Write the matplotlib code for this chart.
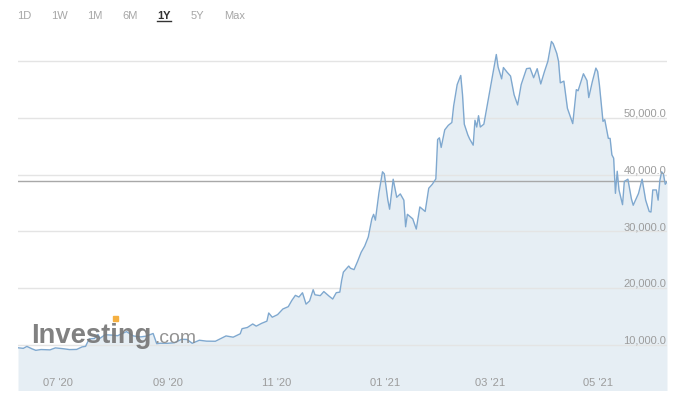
import matplotlib
matplotlib.use("Agg")
import matplotlib.pyplot as plt
import matplotlib.dates as mdates
import matplotlib.transforms as mtrans
from matplotlib import font_manager
import pandas as pd

# ---- data ----
dates = ["2020-06-17", "2020-06-20", "2020-06-22", "2020-06-25", "2020-06-27", "2020-06-30",
         "2020-07-05", "2020-07-08", "2020-07-12", "2020-07-16", "2020-07-20", "2020-07-23",
         "2020-07-25", "2020-07-27", "2020-07-30", "2020-08-01", "2020-08-02", "2020-08-05",
         "2020-08-09", "2020-08-12", "2020-08-17", "2020-08-21", "2020-08-25", "2020-08-28",
         "2020-09-01", "2020-09-03", "2020-09-05", "2020-09-09", "2020-09-13", "2020-09-17",
         "2020-09-20", "2020-09-23", "2020-09-27", "2020-10-01", "2020-10-06", "2020-10-09",
         "2020-10-12", "2020-10-16", "2020-10-20", "2020-10-21", "2020-10-24", "2020-10-27",
         "2020-10-29", "2020-11-01", "2020-11-04", "2020-11-05", "2020-11-07", "2020-11-10",
         "2020-11-13", "2020-11-16", "2020-11-18", "2020-11-20", "2020-11-22", "2020-11-24",
         "2020-11-26", "2020-11-28", "2020-11-30", "2020-12-01", "2020-12-04", "2020-12-06",
         "2020-12-09", "2020-12-11", "2020-12-13", "2020-12-15", "2020-12-16", "2020-12-17",
         "2020-12-20", "2020-12-21", "2020-12-23", "2020-12-25", "2020-12-27", "2020-12-29",
         "2020-12-31", "2021-01-02", "2021-01-03", "2021-01-04", "2021-01-06", "2021-01-08",
         "2021-01-09", "2021-01-11", "2021-01-12", "2021-01-14", "2021-01-16", "2021-01-18",
         "2021-01-20", "2021-01-21", "2021-01-22", "2021-01-25", "2021-01-27", "2021-01-29",
         "2021-02-01", "2021-02-03", "2021-02-05", "2021-02-07", "2021-02-08", "2021-02-09",
         "2021-02-10", "2021-02-12", "2021-02-14", "2021-02-16", "2021-02-17", "2021-02-19",
         "2021-02-21", "2021-02-22", "2021-02-23", "2021-02-25", "2021-02-26", "2021-02-28",
         "2021-03-01", "2021-03-02", "2021-03-03", "2021-03-04", "2021-03-06", "2021-03-08",
         "2021-03-10", "2021-03-13", "2021-03-14", "2021-03-16", "2021-03-17", "2021-03-19",
         "2021-03-21", "2021-03-23", "2021-03-25", "2021-03-27", "2021-03-30", "2021-04-01",
         "2021-04-03", "2021-04-05", "2021-04-07", "2021-04-09", "2021-04-11", "2021-04-13",
         "2021-04-14", "2021-04-16", "2021-04-17", "2021-04-18", "2021-04-20", "2021-04-22",
         "2021-04-25", "2021-04-27", "2021-04-28", "2021-05-01", "2021-05-03", "2021-05-04",
         "2021-05-06", "2021-05-08", "2021-05-09", "2021-05-10", "2021-05-12", "2021-05-13",
         "2021-05-15", "2021-05-16", "2021-05-17", "2021-05-18", "2021-05-19", "2021-05-20",
         "2021-05-21", "2021-05-23", "2021-05-24", "2021-05-26", "2021-05-28", "2021-05-29",
         "2021-06-01", "2021-06-03", "2021-06-05", "2021-06-07", "2021-06-08", "2021-06-09",
         "2021-06-11", "2021-06-12", "2021-06-13", "2021-06-14", "2021-06-15", "2021-06-16",
         "2021-06-17"]
prices = [9450, 9350, 9690, 9250, 9000, 9140,
          9080, 9430, 9300, 9130, 9160, 9600,
          9700, 11000, 11100, 11800, 11100, 11750,
          11680, 11580, 12300, 11530, 11370, 11500,
          11970, 10180, 10250, 10240, 10330, 10950,
          10920, 10240, 10780, 10620, 10600, 11060,
          11540, 11320, 11920, 12820, 13030, 13650,
          13270, 13760, 14150, 15590, 14840, 15300,
          16300, 16700, 17800, 18700, 18400, 19160,
          17150, 17720, 19700, 18800, 18650, 19370,
          18550, 18050, 19170, 19270, 21300, 22800,
          23870, 23480, 23240, 24700, 26300, 27400,
          29000, 32200, 33000, 31970, 36800, 40500,
          40150, 35500, 33900, 39190, 36000, 36600,
          35500, 30800, 33000, 32200, 30400, 34300,
          33500, 37600, 38300, 39250, 46200, 46500,
          44800, 47900, 48700, 49200, 52100, 55900,
          57500, 54100, 48900, 47000, 46300, 45200,
          49600, 48400, 50400, 48400, 48900, 52400,
          55900, 61200, 59000, 56900, 58900, 58100,
          57400, 54100, 52300, 55900, 58700, 58800,
          57100, 58700, 56000, 58100, 60000, 63500,
          63100, 61400, 60000, 56200, 56500, 51700,
          49000, 55000, 54800, 57800, 56600, 53600,
          56400, 58800, 58200, 55800, 49400, 49700,
          46400, 46400, 43500, 42900, 36700, 40600,
          37300, 34700, 38800, 39200, 35700, 34600,
          36700, 39200, 35500, 33500, 33400, 37300,
          37300, 35500, 39000, 40500, 40100, 38300,
          38700]
current_price = 38820
y_ticks = [10000, 20000, 30000, 40000, 50000]
y_grid = [10000, 20000, 30000, 40000, 50000, 60000]
x_tick_dates = ["2020-07-01", "2020-09-01", "2020-11-01", "2021-01-01", "2021-03-01", "2021-05-01"]
x_tick_labels = ["07 '20", "09 '20", "11 '20", "01 '21", "03 '21", "05 '21"]
range_buttons = ["1D", "1W", "1M", "6M", "1Y", "5Y", "Max"]

installed = {f.name for f in font_manager.fontManager.ttflist}
logo_family = "Liberation Sans Narrow" if "Liberation Sans Narrow" in installed else "Liberation Sans"
logo_scale = 1.0 if logo_family == "Liberation Sans Narrow" else 0.82
LF = "Liberation Sans"

W, H = 679, 406
fig = plt.figure(figsize=(W / 100, H / 100), dpi=100)
fig.patch.set_facecolor("white")
ax = fig.add_axes([18 / W, (H - 391) / H, (667 - 18) / W, (391 - 30) / H])
ax.set_facecolor("white")

d = pd.to_datetime(dates)
ax.set_xlim(pd.Timestamp("2020-06-17"), pd.Timestamp("2021-06-17"))
ax.set_ylim(2000, 65700)

for g in y_grid:
    ax.axhline(g, color="#e4e4e4", lw=1.0, zorder=2)

ax.fill_between(d, prices, 0, color="#e6eef4", lw=0, zorder=1)
ax.plot(d, prices, color="#7fa8cf", lw=1.0, zorder=4)
ax.axhline(current_price, color="#a8a8a8", lw=1.0, zorder=3)

for s in ax.spines.values():
    s.set_visible(False)
ax.set_xticks([])
ax.set_yticks([])

lab_color = "#9c9c9c"
tr = mtrans.blended_transform_factory(ax.transAxes, ax.transData)
for t in y_ticks:
    ax.text(0.9985, t, f"{t:,.1f}", transform=tr, ha="right", va="bottom",
            fontsize=8.0, color=lab_color, family=LF, zorder=5)

trx = mtrans.blended_transform_factory(ax.transData, ax.transAxes)
for dt, lb in zip(x_tick_dates, x_tick_labels):
    ax.text(mdates.date2num(pd.Timestamp(dt)), 0.022, lb, transform=trx, ha="left",
            va="center", fontsize=8.0, color=lab_color, family=LF, zorder=5)

# range buttons
btn_x = [24, 59, 95, 130, 164, 197, 235]
for bx, b in zip(btn_x, range_buttons):
    if b == "1Y":
        fig.text(bx / W, 1 - 16 / H, b, ha="center", va="center", fontsize=8.0,
                 color="#333333", family=LF, fontweight="bold")
        fig.add_artist(plt.Line2D([157 / W, 171 / W], [1 - 21.5 / H, 1 - 21.5 / H],
                                  color="#333333", lw=1.0))
    else:
        fig.text(bx / W, 1 - 16 / H, b, ha="center", va="center", fontsize=8.0,
                 color="#a6a6a6", family=LF)

# watermark
fig.text(31 / W, 1 - 343 / H, "Investing", ha="left", va="baseline",
         fontsize=24 * (1 if logo_scale == 1.0 else 0.82), fontweight="bold",
         color="#767676", alpha=0.92, family=logo_family)
fig.text(154 / W, 1 - 343 / H, ".com", ha="left", va="baseline",
         fontsize=17 * (1 if logo_scale == 1.0 else 0.82),
         color="#8a8a8a", alpha=0.92, family=logo_family)
fig.add_artist(plt.Rectangle((113 / W, 1 - 322 / H), 5 / W, 5 / H, color="#f5b041",
                             transform=fig.transFigure, zorder=10))

fig.savefig("out.png", dpi=100)
